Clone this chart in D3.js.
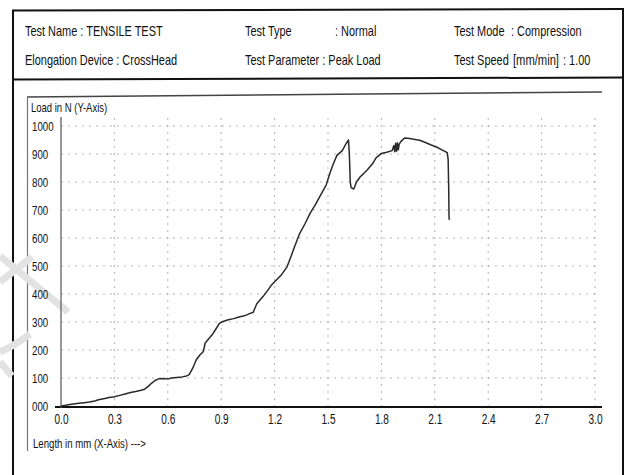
<!DOCTYPE html>
<html>
<head>
<meta charset="utf-8">
<script src="https://cdn.jsdelivr.net/npm/d3@7"></script>
<style>
  html, body { margin: 0; padding: 0; background: #fff; }
  svg { display: block; }
  text { font-family: "Liberation Sans", Arial, sans-serif; fill: #111; }
</style>
</head>
<body>
<svg id="chart" width="626" height="475"></svg>
<script>
// Header fields of the test report
const headerRow1 = [
  { label: "Test Name : TENSILE TEST", col: 0 },
  { label: "Test Type", col: 1 },
  { label: ": Normal", col: 2 },
  { label: "Test Mode", col: 3 },
  { label: ": Compression", col: 4 }
];
const headerRow2 = [
  { label: "Elongation Device : CrossHead", col: 0 },
  { label: "Test Parameter  : Peak Load", col: 1 },
  { label: "Test Speed", col: 3 }
];

// Axis ticks
const xTicks = [0.0, 0.3, 0.6, 0.9, 1.2, 1.5, 1.8, 2.1, 2.4, 2.7, 3.0];
const yTicks = [0, 100, 200, 300, 400, 500, 600, 700, 800, 900, 1000];
const yTickLabels = ["000", "100", "200", "300", "400", "500", "600", "700", "800", "900", "1000"];

// Load (N) against crosshead elongation (mm)
const elongation = [
  0, 0.02, 0.05, 0.08, 0.10, 0.13, 0.16, 0.19, 0.21, 0.24, 0.27, 0.30, 0.33, 0.36, 0.39, 0.42,
  0.45, 0.47, 0.49, 0.51, 0.53, 0.55, 0.58, 0.60, 0.62, 0.65, 0.68, 0.70, 0.72, 0.74, 0.76, 0.78,
  0.80, 0.81, 0.83, 0.85, 0.87, 0.89, 0.91, 0.94, 0.97, 1.00, 1.03, 1.06, 1.08, 1.10, 1.12, 1.14,
  1.16, 1.18, 1.21, 1.24, 1.27, 1.29, 1.31, 1.34, 1.37, 1.40, 1.43, 1.46, 1.49, 1.51, 1.53, 1.55,
  1.58, 1.60, 1.615, 1.62, 1.625, 1.63, 1.645, 1.66, 1.68, 1.70, 1.72, 1.75, 1.77, 1.80, 1.83, 1.86,
  1.87, 1.875, 1.88, 1.885, 1.89, 1.895, 1.90, 1.91, 1.93, 1.96, 1.99, 2.02, 2.05, 2.08, 2.11, 2.14,
  2.17, 2.175, 2.178, 2.18, 2.182
];
const load = [
  0, 2, 5, 8, 10, 12, 14, 18, 22, 26, 30, 33, 38, 43, 48, 52,
  56, 60, 70, 82, 92, 97, 98, 96, 100, 102, 104, 106, 112, 135, 165, 182,
  195, 225, 240, 255, 275, 295, 302, 308, 312, 318, 322, 330, 335, 365, 380, 395,
  412, 430, 450, 470, 497, 530, 565, 615, 650, 689, 720, 755, 790, 830, 865, 895,
  912, 935, 950, 900, 800, 780, 775, 800, 818, 830, 843, 865, 886, 902, 906, 912,
  930, 908, 938, 910, 940, 915, 935, 945, 957, 955, 952, 948, 940, 932, 925, 915,
  905, 880, 780, 675, 665
];

const svg = d3.select("#chart");

// place a horizontally condensed text at (x, y)
function label(parent, x, y, str, size, squeeze, anchor = "start") {
  return parent.append("text")
    .attr("transform", `translate(${x},${y}) scale(${squeeze},1)`)
    .attr("text-anchor", anchor)
    .style("font-size", size + "px")
    .text(str);
}

// ---- report frame ----
const frame = svg.append("g");
frame.append("line").attr("x1", 12).attr("y1", 10.5).attr("x2", 624).attr("y2", 9)
  .attr("stroke", "#111").attr("stroke-width", 2);
frame.append("line").attr("x1", 13).attr("y1", 10).attr("x2", 13).attr("y2", 475)
  .attr("stroke", "#111").attr("stroke-width", 2);
frame.append("line").attr("x1", 623).attr("y1", 9).attr("x2", 623).attr("y2", 475)
  .attr("stroke", "#111").attr("stroke-width", 2);
frame.append("line").attr("x1", 13).attr("y1", 79.5).attr("x2", 623).attr("y2", 77.5)
  .attr("stroke", "#111").attr("stroke-width", 2);

// chart panel border
frame.append("line").attr("x1", 27).attr("y1", 97).attr("x2", 602).attr("y2", 92)
  .attr("stroke", "#444").attr("stroke-width", 1.5);
frame.append("line").attr("x1", 27.5).attr("y1", 97).attr("x2", 27.5).attr("y2", 451)
  .attr("stroke", "#777").attr("stroke-width", 1.2);

// faint diagonal watermark strokes on the left edge
const wm = svg.append("g").attr("fill", "none").attr("stroke", "#e2e2e2").attr("stroke-width", 7)
  .attr("stroke-linecap", "butt");
wm.append("path").attr("d", "M0,256 L68,312");
wm.append("path").attr("d", "M0,282 L32,257");
wm.append("path").attr("d", "M0,352 C14,346 24,338 30,334");
wm.append("path").attr("d", "M0,362 L12,376");

// ---- header text ----
const colX = [25, 245, 335, 454, 511];
const HEAD_SQ = 0.73;
const head = svg.append("g");
headerRow1.forEach(d => label(head, colX[d.col], 36, d.label, 15, HEAD_SQ));
headerRow2.forEach(d => label(head, colX[d.col], 65, d.label, 15, HEAD_SQ));
label(head, 513, 65, "[mm/min]", 14, 0.8);
label(head, 563, 65, ": 1.00", 15, HEAD_SQ);

// ---- plot ----
const x = d3.scaleLinear().domain([0, 3]).range([61, 595]);
const y = d3.scaleLinear().domain([0, 1000]).range([406, 126]);

// grid
const grid = svg.append("g").attr("stroke", "#aaa").attr("stroke-width", 0.9)
  .attr("stroke-dasharray", "2,5");
grid.selectAll("line.h").data(yTicks.slice(1)).join("line")
  .attr("x1", x(0)).attr("x2", x(3)).attr("y1", d => y(d)).attr("y2", d => y(d));
grid.selectAll("line.v").data(xTicks.slice(1)).join("line")
  .attr("x1", d => x(d)).attr("x2", d => x(d)).attr("y1", 118).attr("y2", y(0));

// axes drawn with d3 axis generators; labels condensed afterwards
const TICK_SQ = 0.72;
const fmt = d3.format(".1f");
const xAxis = svg.append("g").attr("transform", `translate(0,${y(0) + 1})`)
  .call(d3.axisBottom(x).tickValues(xTicks).tickSize(0).tickPadding(8).tickFormat(fmt));
xAxis.select(".domain").attr("d", `M55,0H602`).attr("stroke", "#111").attr("stroke-width", 2);
xAxis.selectAll(".tick text")
  .attr("transform", `scale(${TICK_SQ},1)`)
  .attr("x", 0).attr("y", 7).attr("dy", "0.71em")
  .style("font-size", "14px")
  .style("font-family", '"Liberation Sans", Arial, sans-serif').attr("fill", "#111");

const yAxis = svg.append("g").attr("transform", `translate(${x(0)},0)`)
  .call(d3.axisLeft(y).tickValues(yTicks).tickSize(0).tickPadding(0)
    .tickFormat((d, i) => yTickLabels[i]));
yAxis.select(".domain").attr("d", `M0,117V${y(0) + 2}`).attr("stroke", "#555").attr("stroke-width", 1.2);
yAxis.selectAll(".tick text")
  .attr("text-anchor", "start")
  .attr("x", (32 - x(0)) / TICK_SQ)
  .attr("transform", `scale(${TICK_SQ},1)`)
  .style("font-size", "13.5px")
  .style("font-family", '"Liberation Sans", Arial, sans-serif').attr("fill", "#111");

// axis titles
label(svg, 31, 112, "Load in N (Y-Axis)", 12.5, 0.76);
label(svg, 33, 448, "Length in mm (X-Axis) --->", 13, 0.74);

// load curve
const pts = elongation.map((e, i) => [e, load[i]]);
svg.append("path").datum(pts)
  .attr("fill", "none").attr("stroke", "#2a2a2a").attr("stroke-width", 1.5)
  .attr("stroke-linejoin", "round")
  .attr("d", d3.line().x(d => x(d[0])).y(d => y(d[1])));
</script>
</body>
</html>
